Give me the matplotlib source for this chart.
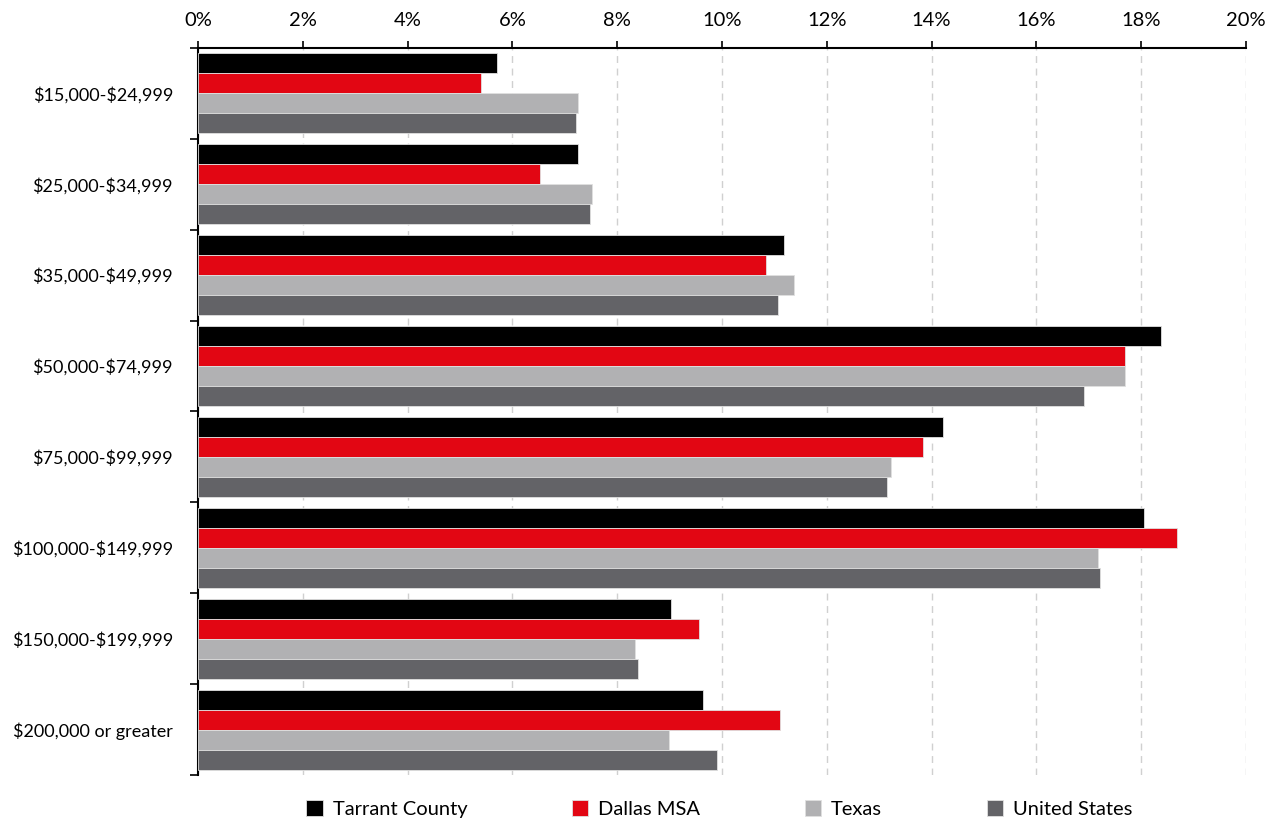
import numpy as np
import matplotlib.pyplot as plt
from matplotlib.ticker import FixedLocator, PercentFormatter

plt.rcParams['font.family'] = ['Lato', 'DejaVu Sans']
plt.rcParams['text.parse_math'] = False

categories = ['$15,000-$24,999', '$25,000-$34,999', '$35,000-$49,999', '$50,000-$74,999',
              '$75,000-$99,999', '$100,000-$149,999', '$150,000-$199,999', '$200,000 or greater']
tarrant = [5.71, 7.25, 11.18, 18.38, 14.22, 18.05, 9.03, 9.64]
dallas = [5.40, 6.53, 10.84, 17.69, 13.84, 18.68, 9.56, 11.11]
texas = [7.25, 7.52, 11.37, 17.69, 13.23, 17.18, 8.34, 8.99]
usa = [7.21, 7.48, 11.07, 16.91, 13.15, 17.21, 8.40, 9.90]

series = [('Tarrant County', tarrant, '#000000'),
          ('Dallas MSA', dallas, '#e20613'),
          ('Texas', texas, '#b1b1b3'),
          ('United States', usa, '#636367')]

fig = plt.figure(figsize=(12.8, 8.23), dpi=100)
ax = fig.add_axes([0.1547, 0.0583, 0.8187, 0.8834])

y = np.arange(len(categories))
h = 0.22
for i, (name, vals, col) in enumerate(series):
    ax.barh(y - 1.5 * h + i * h, vals, height=h, color=col, label=name,
            edgecolor='#e0e0e0', linewidth=0.6, zorder=3)

ax.set_xlim(0, 20)
ax.set_ylim(len(categories) - 0.5, -0.5)
ax.xaxis.tick_top()
ax.set_xticks(np.arange(0, 21, 2))
ax.xaxis.set_major_formatter(PercentFormatter(decimals=0))
ax.tick_params(axis='x', length=5, width=1.2, pad=9, labelsize=14.5)
ax.grid(axis='x', color='#d0d0d0', linestyle=(0, (5, 4)), linewidth=1.0, zorder=0)

ax.set_yticks(y)
ax.set_yticklabels(categories)
ax.tick_params(axis='y', which='major', length=0, pad=18, labelsize=13)
ax.yaxis.set_minor_locator(FixedLocator(np.arange(-0.5, len(categories), 1)))
ax.tick_params(axis='y', which='minor', length=6, width=1.2)

for s in ['right', 'bottom']:
    ax.spines[s].set_visible(False)
for s in ['top', 'left']:
    ax.spines[s].set_linewidth(1.5)

fig.legend(loc='lower center', bbox_to_anchor=(0.562, -0.016), ncol=4, frameon=False,
           fontsize=14.5, handlelength=0.8, handleheight=0.8, handletextpad=0.5,
           columnspacing=5.2)

fig.savefig('out.png', dpi=100)
